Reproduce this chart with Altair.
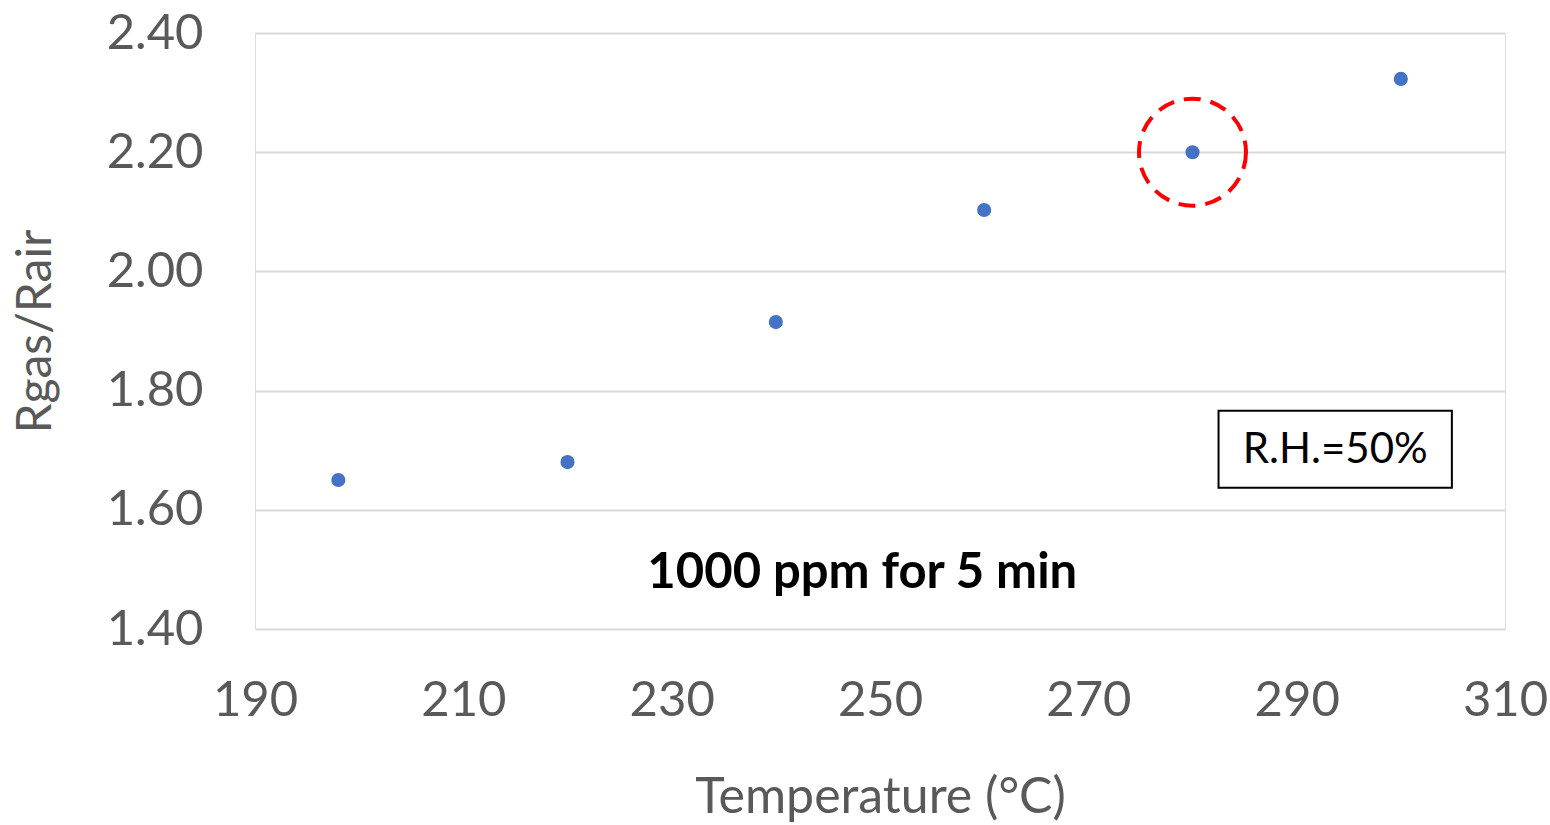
import altair as alt
import pandas as pd

# Data
temperature = [198, 220, 240, 260, 280, 300]
ratio = [1.65, 1.68, 1.915, 2.103, 2.20, 2.323]

# Highlighted point
hl_x = [280]
hl_y = [2.20]

# Annotations (data coordinates)
box_x, box_x2 = [282.5], [304.9]
box_y, box_y2 = [1.766], [1.637]
rh_label = ["R.H.=50%"]
rh_x, rh_y = [293.7], [1.700]
note_label = ["1000 ppm for 5 min"]
note_x, note_y = [248.3], [1.494]

FONT = "Lato"

df = pd.DataFrame({"T": temperature, "R": ratio})
hl = pd.DataFrame({"T": hl_x, "R": hl_y})
box = pd.DataFrame({"x": box_x, "x2": box_x2, "y": box_y, "y2": box_y2})
rh = pd.DataFrame({"x": rh_x, "y": rh_y, "t": rh_label})
note = pd.DataFrame({"x": note_x, "y": note_y, "t": note_label})

xscale = alt.Scale(domain=[190, 310], nice=False, zero=False)
yscale = alt.Scale(domain=[1.4, 2.4], nice=False, zero=False)

xaxis = alt.Axis(
    title="Temperature (°C)", values=[190, 210, 230, 250, 270, 290, 310],
    grid=False, ticks=False, domain=False, labelFontSize=49, labelColor="#595959",
    labelFont=FONT, labelPadding=47, labelFlush=False, labelOverlap=False,
    titleFont=FONT, titleFontSize=50,
    titleFontWeight="normal", titleColor="#595959", titlePadding=47,
)
yaxis = alt.Axis(
    title="Rgas/Rair", values=[1.4, 1.6, 1.8, 2.0, 2.2, 2.4], format=".2f",
    grid=True, gridColor="#d9d9d9", gridWidth=2, ticks=False, domain=False,
    labelFontSize=49, labelColor="#595959", labelFont=FONT, labelPadding=52,
    labelFlush=False, labelOverlap=False,
    titleFont=FONT, titleFontSize=48, titleFontWeight="normal",
    titleColor="#595959", titlePadding=46,
)

points = alt.Chart(df).mark_circle(size=200, color="#4472C4", opacity=1).encode(
    x=alt.X("T:Q", scale=xscale, axis=xaxis),
    y=alt.Y("R:Q", scale=yscale, axis=yaxis),
)

ring = alt.Chart(hl).mark_point(
    shape="circle", size=11450, filled=False, color="#FF0000",
    strokeWidth=4, strokeDash=[17, 10], opacity=1,
).encode(x=alt.X("T:Q", scale=xscale), y=alt.Y("R:Q", scale=yscale))

rect = alt.Chart(box).mark_rect(fill="white", stroke="black", strokeWidth=2).encode(
    x=alt.X("x:Q", scale=xscale), x2="x2",
    y=alt.Y("y:Q", scale=yscale), y2="y2",
)

rh_text = alt.Chart(rh).mark_text(
    font=FONT, fontSize=42, color="black", align="center", baseline="middle"
).encode(x=alt.X("x:Q", scale=xscale), y=alt.Y("y:Q", scale=yscale), text="t:N")

note_text = alt.Chart(note).mark_text(
    font=FONT, fontSize=49, fontWeight="bold", color="black",
    align="center", baseline="middle"
).encode(x=alt.X("x:Q", scale=xscale), y=alt.Y("y:Q", scale=yscale), text="t:N")

chart = alt.layer(points, ring, rect, rh_text, note_text).properties(
    width=1250, height=596,
    padding={"left": 255, "top": 33, "right": 45, "bottom": 196},
    autosize=alt.AutoSizeParams(type="none"),
).configure_view(stroke="#bfbfbf", strokeWidth=2).configure(background="white")

chart.save("out.html", embed_options={"renderer": "svg", "actions": False})
